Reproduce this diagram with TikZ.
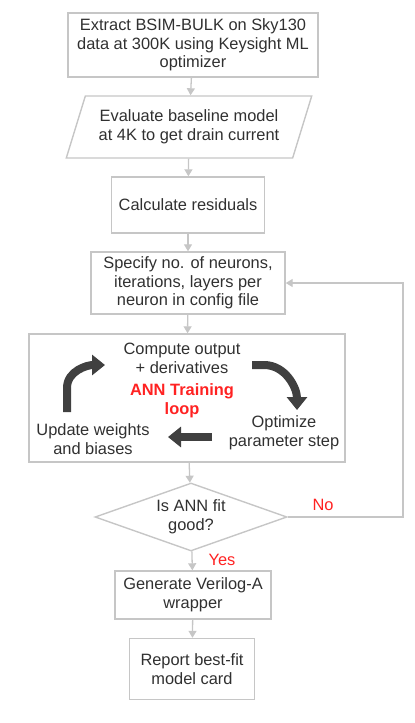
\documentclass[tikz,border=0pt]{standalone}
\usepackage{fontspec}
\setmainfont{Liberation Sans}
\usetikzlibrary{shapes.geometric,arrows.meta}
\definecolor{boxgray}{HTML}{C6C6C6}
\definecolor{textgray}{HTML}{303030}
\definecolor{loopdark}{HTML}{404040}
\definecolor{labelred}{HTML}{FF2222}
\begin{document}
\begin{tikzpicture}[x=1pt,y=-1pt]
        \tikzstyle{stepbox}=[rectangle,draw=boxgray,line width=1.4pt,text=textgray,align=center,inner sep=0pt,font=\fontsize{16.4}{18.7}\selectfont]
        \tikzstyle{inputbox}=[stepbox,trapezium,trapezium left angle=64,trapezium right angle=116,trapezium stretches=true]
        \tikzstyle{decision}=[stepbox,diamond,aspect=2.8]
        \tikzstyle{looptext}=[text=textgray,align=center,inner sep=0pt,font=\fontsize{16.4}{18.7}\selectfont]
        \tikzstyle{answer}=[text=labelred,inner sep=0pt,font=\fontsize{16.4}{18.7}\selectfont]
        \tikzstyle{edge}=[draw=boxgray,line width=1.3pt,-{Triangle[width=8pt,length=7pt]}]
        \tikzstyle{cycle}=[draw=loopdark,line width=8pt,-{Triangle[width=20pt,length=13pt]}]
        \useasboundingbox (0,0) rectangle (415,723);
        \begin{scope}
            % main flow
            \node [stepbox,minimum width=250,minimum height=64] (extract) at (193,45) {Extract BSIM-BULK on Sky130\\data at 300K using Keysight ML\\optimizer};
            \node [inputbox,minimum width=246,minimum height=62] (eval) at (189,127) {Evaluate baseline model\\at 4K to get drain current};
            \node [stepbox,minimum width=153,minimum height=56] (resid) at (188,205) {Calculate residuals};
            \node [stepbox,minimum width=194,minimum height=62] (spec) at (188,283) {Specify no. of neurons,\\iterations, layers per\\neuron in config file};
            \node [stepbox,minimum width=316,minimum height=128] (loop) at (187,398) {};
            \node [decision,minimum width=192,minimum height=68] (fit) at (191,517) {Is ANN fit\\good?};
            \node [stepbox,minimum width=156,minimum height=48] (gen) at (193,595) {Generate Verilog-A\\wrapper};
            \node [stepbox,minimum width=125,minimum height=61] (report) at (192,669) {Report best-fit\\model card};
            % training loop
            \node [looptext] (compute) at (182,358) {Compute output\\+ derivatives};
            \node [looptext,text=labelred,font=\fontsize{16.4}{18.7}\selectfont\bfseries] (annloop) at (182,401) {ANN Training\\loop};
            \node [looptext] (update) at (93,439) {Update weights\\and biases};
            \node [looptext] (optim) at (284,433) {Optimize\\parameter step};
            \coordinate (upstart) at (67,412);
            \coordinate (upend) at (105,365);
            \coordinate (downstart) at (252,365);
            \coordinate (downend) at (297,410);
            \coordinate (leftstart) at (212,437);
            \coordinate (leftend) at (168,437);
            \path[cycle] (upstart) -- (67,388) to[out=90,in=180] (upend);
            \path[cycle] (downstart) -- (264,365) to[out=0,in=90] (downend);
            \path[cycle] (leftstart) -- (leftend);
            % connectors
            \path[edge] (extract) -- (eval);
            \path[edge] (eval) -- (resid);
            \path[edge] (resid) -- (spec);
            \path[edge] (spec) -- (loop);
            \path[edge] (loop) -- (fit);
            \path[edge] (fit) -- (gen);
            \path[edge] (gen) -- (report);
            \coordinate (back) at (403,517);
            \path[edge] (fit.east) -- (back) |- (spec.east);
            \node [answer] (no) at (323,505) {No};
            \node [answer] (yes) at (222,560) {Yes};
        \end{scope}
\end{tikzpicture}
\end{document}
